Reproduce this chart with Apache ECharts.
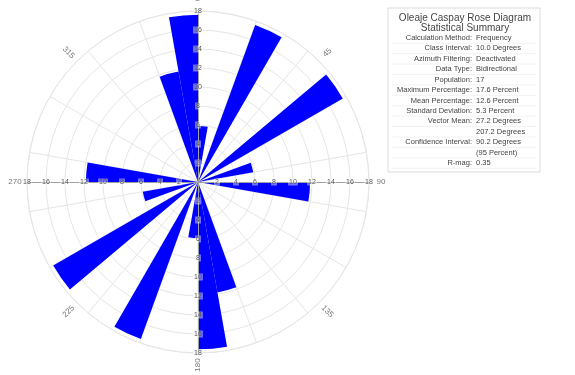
<!DOCTYPE html>
<html>
<head>
<meta charset="utf-8">
<script src="https://cdn.jsdelivr.net/npm/echarts@6/dist/echarts.min.js"></script>
<style>
  html, body { margin: 0; padding: 0; background: #ffffff; }
  #chart { width: 575px; height: 375px; }
</style>
</head>
<body>
<div id="chart"></div>
<script>
// Azimuth classes (10 degree interval) and frequency in percent (bidirectional data)
const classLabels = [];
for (let a = 0; a < 360; a += 10) classLabels.push(a + '-' + (a + 10));
const classPercent = [
  5.9, 0, 17.6, 0, 0, 17.6, 0, 5.9, 0, 11.8, 0, 0,
  0, 0, 0, 0, 11.8, 17.6, 5.9, 0, 17.6, 0, 0, 17.6,
  0, 5.9, 0, 11.8, 0, 0, 0, 0, 0, 0, 11.8, 17.6
];

// Radial percentage scale
const radiusMax = 18;
const radiusStep = 2;

// Compass labels around the rim
const compassAngles = [0, 45, 90, 135, 180, 225, 270, 315];
const compassLabels = ['0', '45', '90', '135', '180', '225', '270', '315'];

// Statistics panel
const summaryTitle = ['Oleaje Caspay Rose Diagram', 'Statistical Summary'];
const statLabels = [
  'Calculation Method:', 'Class Interval:', 'Azimuth Filtering:', 'Data Type:',
  'Population:', 'Maximum Percentage:', 'Mean Percentage:', 'Standard Deviation:',
  'Vector Mean:', '', 'Confidence Interval:', '', 'R-mag:'
];
const statValues = [
  'Frequency', '10.0 Degrees', 'Deactivated', 'Bidirectional',
  '17', '17.6 Percent', '12.6 Percent', '5.3 Percent',
  '27.2 Degrees', '207.2 Degrees', '90.2 Degrees', '(95 Percent)', '0.35'
];

const CENTER = [198, 182];
const RADIUS = 171;
const RIM_LABEL_RADIUS = 183;
const GRID = '#e6e6e6';
const FONT = 'Liberation Sans, Arial, sans-serif';

// Four radial scales, drawn north, east, south and west (math angles)
const scaleDirections = [90, 0, 270, 180];

const polars = [{ center: CENTER, radius: RADIUS }];
const angleAxes = [{
  polarIndex: 0,
  type: 'category',
  data: classLabels,
  startAngle: 90,
  clockwise: true,
  boundaryGap: true,
  axisLine: { show: true, lineStyle: { color: GRID, width: 1 } },
  axisTick: { show: false },
  axisLabel: { show: false },
  splitLine: { show: true, lineStyle: { color: GRID, width: 1 } }
}];
const radiusAxes = [{
  polarIndex: 0,
  min: 0, max: radiusMax, interval: radiusStep,
  axisLine: { show: false },
  axisTick: { show: false },
  axisLabel: { show: false },
  splitLine: { show: true, lineStyle: { color: GRID, width: 1 } }
}];

scaleDirections.forEach((dir, i) => {
  const idx = i + 1;
  polars.push({ center: CENTER, radius: RADIUS });
  angleAxes.push({
    polarIndex: idx,
    type: 'value',
    min: 0, max: 360,
    startAngle: dir,
    clockwise: true,
    show: false
  });
  radiusAxes.push({
    polarIndex: idx,
    min: 0, max: radiusMax, interval: radiusStep,
    z: 5,
    axisLine: { show: true, lineStyle: { color: '#a0a0a0', width: 1 } },
    axisTick: { show: false },
    splitLine: { show: false },
    axisLabel: {
      show: true,
      margin: 0,
      align: 'center',
      verticalAlign: 'middle',
      fontSize: 7,
      fontFamily: FONT,
      color: '#555',
      backgroundColor: 'rgba(255,255,255,0.45)',
      padding: [0, 1],
      formatter: v => (v === 0 ? '' : String(v))
    }
  });
});

// Ring that carries the compass labels just outside the outer circle
const rimIndex = polars.length;
polars.push({ center: CENTER, radius: RIM_LABEL_RADIUS });
angleAxes.push({
  polarIndex: rimIndex, type: 'value', min: 0, max: 360,
  startAngle: 90, clockwise: true, show: false
});
radiusAxes.push({ polarIndex: rimIndex, min: 0, max: 1, show: false });

// Rotate each rim label along its radius, kept readable
function radialRotate(az) {
  let r = 90 - az;
  while (r > 90) r -= 180;
  while (r <= -90) r += 180;
  return r;
}

const graphics = [];
const boxX = 388, boxY = 8, boxW = 152, boxH = 164;
graphics.push({
  type: 'rect',
  shape: { x: boxX, y: boxY, width: boxW, height: boxH },
  style: { fill: '#fff', stroke: '#dcdcdc', lineWidth: 1 }
});
summaryTitle.forEach((t, i) => {
  graphics.push({
    type: 'text',
    x: boxX + boxW / 2 + 1, y: 18 + i * 10,
    style: { text: t, fontSize: 10, fontFamily: FONT, fill: '#444', align: 'center', verticalAlign: 'middle' }
  });
});
const rowY0 = 38, rowStep = 10.42;
statLabels.forEach((lab, i) => {
  const y = rowY0 + i * rowStep;
  graphics.push({
    type: 'line',
    shape: { x1: boxX + 4, y1: y + 5.2, x2: boxX + boxW - 4, y2: y + 5.2 },
    style: { stroke: '#f2f2f2', lineWidth: 1 }
  });
  if (lab) {
    graphics.push({
      type: 'text', x: 472, y: y,
      style: { text: lab, fontSize: 7.5, fontFamily: FONT, fill: '#444', align: 'right', verticalAlign: 'middle' }
    });
  }
  graphics.push({
    type: 'text', x: 476, y: y,
    style: { text: statValues[i], fontSize: 7.5, fontFamily: FONT, fill: '#444', align: 'left', verticalAlign: 'middle' }
  });
});

const chart = echarts.init(document.getElementById('chart'), null, { renderer: 'canvas' });
chart.setOption({
  animation: false,
  backgroundColor: '#ffffff',
  polar: polars,
  angleAxis: angleAxes,
  radiusAxis: radiusAxes,
  graphic: graphics,
  series: [
    {
      type: 'bar',
      coordinateSystem: 'polar',
      polarIndex: 0,
      data: classPercent,
      barCategoryGap: '0%',
      itemStyle: { color: '#0000ff' },
      z: 2
    },
    {
      type: 'scatter',
      coordinateSystem: 'polar',
      polarIndex: rimIndex,
      symbolSize: 1,
      silent: true,
      z: 6,
      itemStyle: { color: 'rgba(0,0,0,0)' },
      data: compassAngles.map((a, i) => ({
        value: [1, a],
        label: {
          show: true,
          formatter: compassLabels[i],
          position: 'inside',
          rotate: radialRotate(a),
          fontSize: 8,
          fontFamily: FONT,
          color: '#555'
        }
      }))
    }
  ]
});
</script>
</body>
</html>
